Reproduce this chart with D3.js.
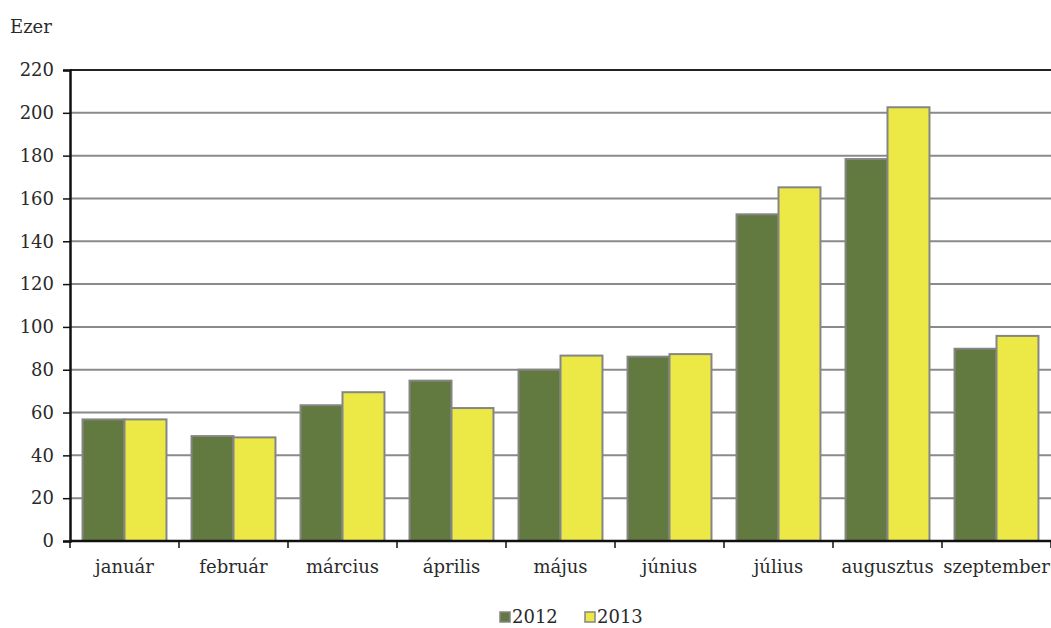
<!DOCTYPE html>
<html><head><meta charset="utf-8">
<script src="https://cdn.jsdelivr.net/npm/d3@7"></script>
<style>body{margin:0;background:#fff}svg{display:block}</style>
</head><body><svg id="c" width="1051" height="628"></svg>
<script>
const categories = ["január","február","március","április","május","június","július","augusztus","szeptember"];
const series2012 = [56.8, 49.0, 63.4, 74.9, 80.0, 86.1, 152.6, 178.4, 89.8];
const series2013 = [56.8, 48.4, 69.5, 62.1, 86.6, 87.3, 165.2, 202.6, 95.8];
const seriesNames = ["2012","2013"];
const yTicks = [0,20,40,60,80,100,120,140,160,180,200,220];
const colors = ["#627A40","#ECE946"];
const FONT = "'DejaVu Serif', serif";
const FS = "18px", LS = "0px";

const svg = d3.select("#c");
const L = 70, R = 1051, T = 70, B = 541;
const x = d3.scaleBand().domain(categories).range([L, R]).paddingInner(0.23).paddingOuter(0.115);
const xb = d3.scaleBand().domain(categories).range([L, R]);
const xs = d3.scaleBand().domain(seriesNames).range([0, x.bandwidth()]);
const y = d3.scaleLinear().domain([0,220]).range([B, T]);

function styleText(sel){ sel.style("font-family", FONT).style("font-size", FS).style("letter-spacing", LS).attr("fill", "#2a2a2a"); }

// gridlines
svg.append("g").selectAll("line").data(yTicks.filter(d=>d>0)).join("line")
  .attr("x1", L).attr("x2", R).attr("y1", d=>y(d)).attr("y2", d=>y(d))
  .attr("stroke", d=>d===220?"#222":"#8a8a8a").attr("stroke-width", 2);

// bars
const data = categories.map((c,i)=>({c, v:[series2012[i], series2013[i]]}));
const g = svg.append("g").selectAll("g").data(data).join("g")
  .attr("transform", d=>`translate(${x(d.c)},0)`);
g.selectAll("rect").data(d=>d.v.map((v,j)=>({v, s:seriesNames[j], j}))).join("rect")
  .attr("x", d=>xs(d.s)).attr("width", xs.bandwidth())
  .attr("y", d=>y(d.v)).attr("height", d=>B - y(d.v))
  .attr("fill", d=>colors[d.j]).attr("stroke", "#858585").attr("stroke-width", 2);

// y axis
const ya = svg.append("g").attr("transform", `translate(${L},0)`)
  .call(d3.axisLeft(y).tickValues(yTicks).tickSize(7).tickPadding(9).tickFormat(d3.format("d")));
ya.attr("font-family", null);
ya.select(".domain").attr("stroke", "#111").attr("stroke-width", 2.5);
ya.selectAll(".tick line").attr("stroke", "#111").attr("stroke-width", 1.5);
ya.selectAll("text").call(styleText);

// x axis
const xa = svg.append("g").attr("transform", `translate(0,${B})`)
  .call(d3.axisBottom(xb).tickSize(0).tickPadding(19));
xa.attr("font-family", null);
xa.select(".domain").remove();
xa.append("line").attr("x1", L).attr("x2", R).attr("stroke", "#111").attr("stroke-width", 2.5);
xa.selectAll("text").call(styleText);
const bounds = categories.map(c=>xb(c)).concat([R]);
xa.selectAll(".bt").data(bounds).join("line").attr("class","bt")
  .attr("x1", d=>d).attr("x2", d=>d).attr("y1", 0).attr("y2", 7)
  .attr("stroke", "#111").attr("stroke-width", 1.5);

// unit label
svg.append("text").attr("x", 10).attr("y", 33).text("Ezer").call(styleText);

// legend
const lg = svg.append("g").attr("transform", "translate(500,617)");
seriesNames.forEach((s,i)=>{
  const gg = lg.append("g").attr("transform", `translate(${i*85},0)`);
  gg.append("rect").attr("x", 0).attr("y", -5).attr("width", 10).attr("height", 10)
    .attr("fill", colors[i]).attr("stroke", "#858585").attr("stroke-width", 1.5);
  gg.append("text").attr("x", 12).attr("y", 6).text(s).call(styleText);
});
</script></body></html>
